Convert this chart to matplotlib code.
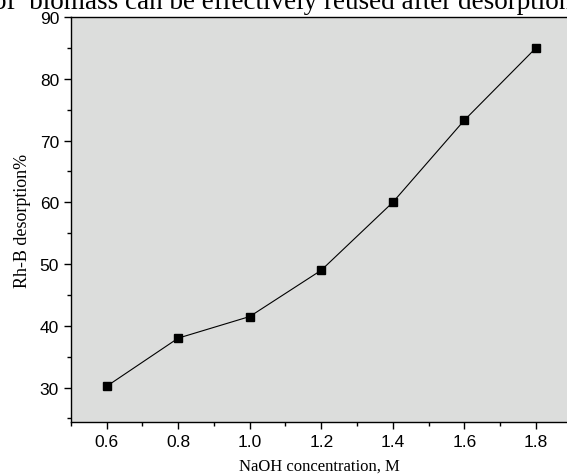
import numpy as np
import matplotlib.pyplot as plt

conc = [0.6, 0.8, 1.0, 1.2, 1.4, 1.6, 1.8]
desorption = [30.2, 38.0, 41.5, 49.0, 60.0, 73.3, 85.0]
xticks = [0.6, 0.8, 1.0, 1.2, 1.4, 1.6, 1.8]
yticks = [30, 40, 50, 60, 70, 80, 90]

fig = plt.figure(figsize=(5.67, 4.77), dpi=100)
ax = fig.add_axes([0.125, 0.113, 0.875, 0.849])
ax.set_facecolor('#dcdddc')

ax.plot(conc, desorption, color='black', lw=0.8)
ax.plot(conc, desorption, 's', color='black', ms=6)

ax.set_xlim(0.5, 1.887)
ax.set_ylim(24.4, 90)
ax.set_xticks(xticks)
ax.set_xticklabels(['%.1f' % t for t in xticks])
ax.set_yticks(yticks)
ax.set_xticks(np.arange(0.5, 1.9, 0.1), minor=True)
ax.set_yticks(np.arange(25, 90, 5), minor=True)
ax.tick_params(which='major', direction='out', length=5, width=1,
               labelsize=12.5, labelfontfamily='Liberation Sans')
ax.tick_params(which='minor', direction='out', length=3, width=1)
ax.spines['right'].set_visible(False)
for s in ['left', 'bottom', 'top']:
    ax.spines[s].set_linewidth(1)

ax.set_xlabel('NaOH concentration, M', family='Liberation Serif', fontsize=12, labelpad=6)
ax.set_ylabel('Rh-B desorption%', family='Liberation Serif', fontsize=13, labelpad=6)

fig.text(-0.012, 0.981, 'of  biomass can be effectively reused after desorption',
         family='Liberation Serif', fontsize=19.5, va='baseline', ha='left')

fig.savefig('out.png', dpi=100)
